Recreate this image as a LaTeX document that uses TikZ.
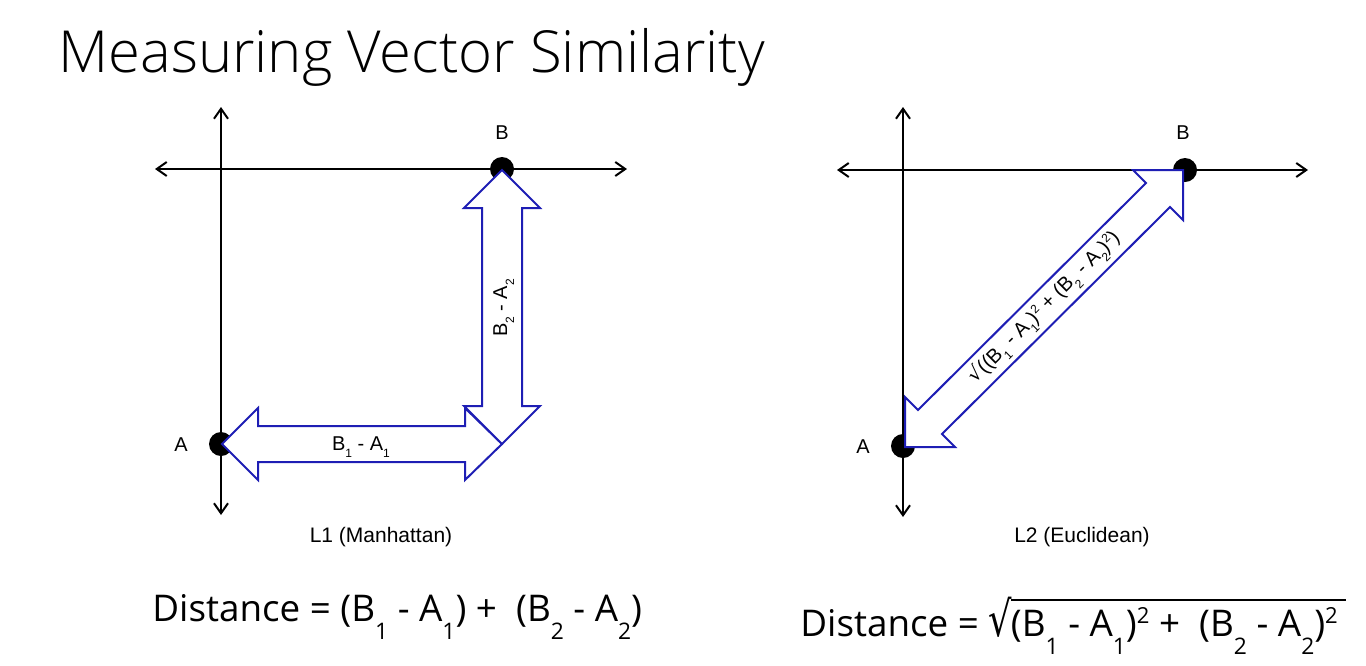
\documentclass[tikz,border=0pt]{standalone}
\usepackage{fontspec}
\setmainfont{Open Sans}
\IfFontExistsTF{Open Sans Light}{\newfontfamily\titlefont{Open Sans Light}}{\newfontfamily\titlefont{Open Sans}}
\newfontfamily\labfont{Liberation Sans}
\newfontfamily\symfont{DejaVu Sans}
\usetikzlibrary{arrows.meta}
\definecolor{arrowblue}{RGB}{30,30,180}
\newcommand\lo[1]{\raisebox{-0.5em}{\scalebox{0.62}{#1}}}
\newcommand\hi[1]{\raisebox{0.33em}{\scalebox{0.6}{#1}}}
\newcommand\sub[1]{\raisebox{-0.36em}{\scalebox{0.6}{#1}}}
\newcommand\rootsign{\scalebox{1}[1.32]{\symfont √}}

\begin{document}
\begin{tikzpicture}[x=0.5pt, y=-0.5pt,
    axis/.style={line width=1pt, {Straight Barb[length=5pt,width=7pt]}-{Straight Barb[length=5pt,width=7pt]}},
    point/.style={circle, fill=black, minimum size=12pt, inner sep=0pt},
    fat/.style={draw=arrowblue, fill=white, line width=1pt, line join=miter},
    lab/.style={font=\labfont\fontsize{10}{12}\selectfont, inner sep=0pt},
    caption/.style={font=\labfont\fontsize{10.5}{12}\selectfont, inner sep=0pt},
    eq/.style={font=\fontsize{18.4}{22}\selectfont, inner sep=0pt}]

    \useasboundingbox (0,0) rectangle (1366,665);

    % Title
    \node[font=\titlefont\fontsize{29}{34}\selectfont, anchor=base west, inner sep=0pt] (title) at (58,72) {Measuring Vector Similarity};

    % L1 axes
    \coordinate (lyt) at (221,107);
    \coordinate (lyb) at (221,515);
    \coordinate (lxl) at (155,169);
    \coordinate (lxr) at (627,169);
    \draw[axis] (lyt) -- (lyb);
    \draw[axis] (lxl) -- (lxr);

    % L2 axes
    \coordinate (ryt) at (903,107);
    \coordinate (ryb) at (903,517);
    \coordinate (rxl) at (837,170);
    \coordinate (rxr) at (1308,170);
    \draw[axis] (ryt) -- (ryb);
    \draw[axis] (rxl) -- (rxr);

    % Points
    \node[point] (lA) at (221,444) {};
    \node[point] (lB) at (502,169) {};
    \node[point] (rA) at (903,446) {};
    \node[point] (rB) at (1185,170) {};
    \node[lab] (lAlab) at (181,445) {A};
    \node[lab] (lBlab) at (502,133) {B};
    \node[lab] (rAlab) at (863,447) {A};
    \node[lab] (rBlab) at (1183,133) {B};

    % L1 fat arrows
    \draw[fat] (222,444) -- (258,408) -- (258,426) -- (465,426) -- (465,408) -- (502,444)
        -- (465,480) -- (465,462) -- (258,462) -- (258,480) -- cycle;
    \draw[fat] (502,170) -- (540,208) -- (522,208) -- (522,406) -- (540,406) -- (502,444)
        -- (464,406) -- (482,406) -- (482,208) -- (464,208) -- cycle;
    \node[lab, anchor=base] (horlab) at (361,450) {B\sub1 - A\sub1};
    \node[lab, anchor=base, rotate=90] (verlab) at (507,308) {B\sub2 - A\sub2};

    % L2 fat arrow
    \draw[fat] (905,447) -- (905,397) -- (918,410) -- (1146,183) -- (1133,170) -- (1183,170)
        -- (1183,220) -- (1170,207) -- (942,434) -- (955,447) -- cycle;
    \node[lab, rotate=45] (diaglab) at (1045,308) {{\symfont √}((B\sub1 - A\sub1)\hi2 + (B\sub2 - A\sub2)\hi2)};

    % Captions
    \node[caption] (cap1) at (381,537) {L1 (Manhattan)};
    \node[caption] (cap2) at (1082,537) {L2 (Euclidean)};

    % Formulas
    \node[eq, anchor=base west] (dist1) at (152,621) {Distance = (B\lo1 - A\lo1) + \ (B\lo2 - A\lo2)};
    \node[eq, anchor=base west] (dist2) at (800,636) {Distance = \rootsign\kern-0.5pt\vbox{\hrule height 0.75pt\kern 3.6pt\hbox{(B\lo1 - A\lo1)\hi2 + \ (B\lo2 - A\lo2)\hi2\kern 4pt}}};
\end{tikzpicture}
\end{document}
